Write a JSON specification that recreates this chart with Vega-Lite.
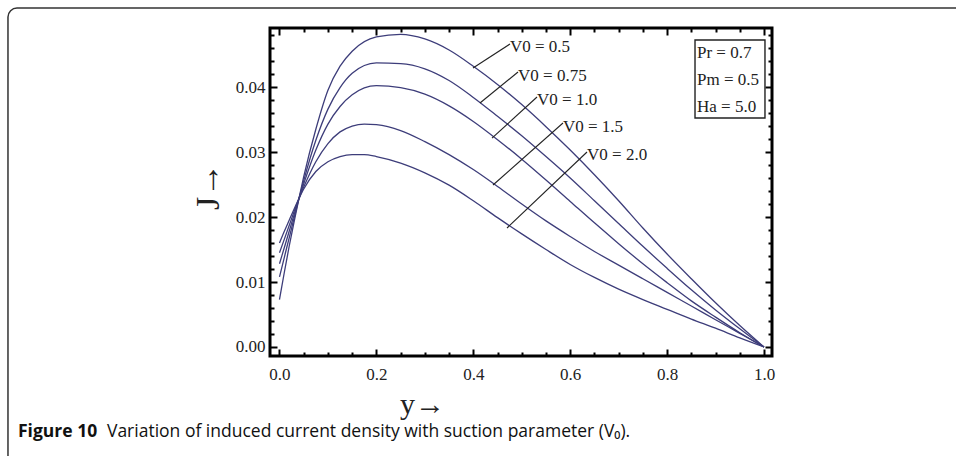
{
  "$schema": "https://vega.github.io/schema/vega-lite/v6.json",
  "width": 502,
  "height": 328,
  "autosize": {"type": "none"},
  "padding": {"left": 270, "top": 28, "right": 184, "bottom": 100},
  "background": "white",
  "config": {
    "view": {"stroke": "black", "strokeWidth": 3},
    "axis": {"grid": false, "domain": false, "tickColor": "black", "tickWidth": 2, "labelFont": "Liberation Serif", "labelColor": "#222", "labelFontSize": 17}
  },
  "datasets": {
    "curves": [
      {"V0": "0.5", "x": 0, "J": 0.0073}, {"V0": "0.5", "x": 0.01, "J": 0.0115}, {"V0": "0.5", "x": 0.02, "J": 0.0155}, {"V0": "0.5", "x": 0.03, "J": 0.0192}, {"V0": "0.5", "x": 0.04, "J": 0.0228}, {"V0": "0.5", "x": 0.05, "J": 0.0262}, {"V0": "0.5", "x": 0.075, "J": 0.0335}, {"V0": "0.5", "x": 0.1, "J": 0.0395}, {"V0": "0.5", "x": 0.125, "J": 0.0432}, {"V0": "0.5", "x": 0.15, "J": 0.0455}, {"V0": "0.5", "x": 0.2, "J": 0.0477}, {"V0": "0.5", "x": 0.25, "J": 0.0481}, {"V0": "0.5", "x": 0.3, "J": 0.0474}, {"V0": "0.5", "x": 0.35, "J": 0.0457}, {"V0": "0.5", "x": 0.4, "J": 0.0432}, {"V0": "0.5", "x": 0.45, "J": 0.0404}, {"V0": "0.5", "x": 0.5, "J": 0.0373}, {"V0": "0.5", "x": 0.55, "J": 0.0339}, {"V0": "0.5", "x": 0.6, "J": 0.0303}, {"V0": "0.5", "x": 0.65, "J": 0.0265}, {"V0": "0.5", "x": 0.7, "J": 0.0225}, {"V0": "0.5", "x": 0.75, "J": 0.0183}, {"V0": "0.5", "x": 0.8, "J": 0.0143}, {"V0": "0.5", "x": 0.85, "J": 0.0105}, {"V0": "0.5", "x": 0.9, "J": 0.0068}, {"V0": "0.5", "x": 0.95, "J": 0.0033}, {"V0": "0.5", "x": 1.0, "J": 0.0},
      {"V0": "0.75", "x": 0, "J": 0.0108}, {"V0": "0.75", "x": 0.01, "J": 0.0138}, {"V0": "0.75", "x": 0.02, "J": 0.0168}, {"V0": "0.75", "x": 0.03, "J": 0.0198}, {"V0": "0.75", "x": 0.04, "J": 0.0228}, {"V0": "0.75", "x": 0.05, "J": 0.0256}, {"V0": "0.75", "x": 0.075, "J": 0.0318}, {"V0": "0.75", "x": 0.1, "J": 0.0366}, {"V0": "0.75", "x": 0.125, "J": 0.0399}, {"V0": "0.75", "x": 0.15, "J": 0.0421}, {"V0": "0.75", "x": 0.2, "J": 0.0437}, {"V0": "0.75", "x": 0.25, "J": 0.0436}, {"V0": "0.75", "x": 0.3, "J": 0.0428}, {"V0": "0.75", "x": 0.35, "J": 0.041}, {"V0": "0.75", "x": 0.4, "J": 0.0384}, {"V0": "0.75", "x": 0.45, "J": 0.0355}, {"V0": "0.75", "x": 0.5, "J": 0.0325}, {"V0": "0.75", "x": 0.55, "J": 0.0293}, {"V0": "0.75", "x": 0.6, "J": 0.026}, {"V0": "0.75", "x": 0.65, "J": 0.0225}, {"V0": "0.75", "x": 0.7, "J": 0.019}, {"V0": "0.75", "x": 0.75, "J": 0.0155}, {"V0": "0.75", "x": 0.8, "J": 0.0121}, {"V0": "0.75", "x": 0.85, "J": 0.0088}, {"V0": "0.75", "x": 0.9, "J": 0.0057}, {"V0": "0.75", "x": 0.95, "J": 0.0028}, {"V0": "0.75", "x": 1.0, "J": 0.0},
      {"V0": "1.0", "x": 0, "J": 0.0128}, {"V0": "1.0", "x": 0.01, "J": 0.0153}, {"V0": "1.0", "x": 0.02, "J": 0.0178}, {"V0": "1.0", "x": 0.03, "J": 0.0203}, {"V0": "1.0", "x": 0.04, "J": 0.0228}, {"V0": "1.0", "x": 0.05, "J": 0.0251}, {"V0": "1.0", "x": 0.075, "J": 0.0303}, {"V0": "1.0", "x": 0.1, "J": 0.0343}, {"V0": "1.0", "x": 0.125, "J": 0.037}, {"V0": "1.0", "x": 0.15, "J": 0.0388}, {"V0": "1.0", "x": 0.2, "J": 0.0402}, {"V0": "1.0", "x": 0.25, "J": 0.0399}, {"V0": "1.0", "x": 0.3, "J": 0.0389}, {"V0": "1.0", "x": 0.35, "J": 0.0371}, {"V0": "1.0", "x": 0.4, "J": 0.0347}, {"V0": "1.0", "x": 0.45, "J": 0.0319}, {"V0": "1.0", "x": 0.5, "J": 0.0289}, {"V0": "1.0", "x": 0.55, "J": 0.0257}, {"V0": "1.0", "x": 0.6, "J": 0.0224}, {"V0": "1.0", "x": 0.65, "J": 0.0191}, {"V0": "1.0", "x": 0.7, "J": 0.0159}, {"V0": "1.0", "x": 0.75, "J": 0.0128}, {"V0": "1.0", "x": 0.8, "J": 0.0099}, {"V0": "1.0", "x": 0.85, "J": 0.0071}, {"V0": "1.0", "x": 0.9, "J": 0.0046}, {"V0": "1.0", "x": 0.95, "J": 0.0022}, {"V0": "1.0", "x": 1.0, "J": 0.0},
      {"V0": "1.5", "x": 0, "J": 0.0145}, {"V0": "1.5", "x": 0.01, "J": 0.0166}, {"V0": "1.5", "x": 0.02, "J": 0.0187}, {"V0": "1.5", "x": 0.03, "J": 0.0208}, {"V0": "1.5", "x": 0.04, "J": 0.0228}, {"V0": "1.5", "x": 0.05, "J": 0.0246}, {"V0": "1.5", "x": 0.075, "J": 0.0285}, {"V0": "1.5", "x": 0.1, "J": 0.0313}, {"V0": "1.5", "x": 0.125, "J": 0.0331}, {"V0": "1.5", "x": 0.15, "J": 0.034}, {"V0": "1.5", "x": 0.175, "J": 0.0343}, {"V0": "1.5", "x": 0.2, "J": 0.0342}, {"V0": "1.5", "x": 0.25, "J": 0.0333}, {"V0": "1.5", "x": 0.3, "J": 0.0316}, {"V0": "1.5", "x": 0.35, "J": 0.0296}, {"V0": "1.5", "x": 0.4, "J": 0.0273}, {"V0": "1.5", "x": 0.45, "J": 0.0247}, {"V0": "1.5", "x": 0.5, "J": 0.022}, {"V0": "1.5", "x": 0.55, "J": 0.0194}, {"V0": "1.5", "x": 0.6, "J": 0.017}, {"V0": "1.5", "x": 0.65, "J": 0.0147}, {"V0": "1.5", "x": 0.7, "J": 0.0126}, {"V0": "1.5", "x": 0.75, "J": 0.0105}, {"V0": "1.5", "x": 0.8, "J": 0.0084}, {"V0": "1.5", "x": 0.85, "J": 0.0063}, {"V0": "1.5", "x": 0.9, "J": 0.0042}, {"V0": "1.5", "x": 0.95, "J": 0.0021}, {"V0": "1.5", "x": 1.0, "J": 0.0},
      {"V0": "2.0", "x": 0, "J": 0.016}, {"V0": "2.0", "x": 0.01, "J": 0.0178}, {"V0": "2.0", "x": 0.02, "J": 0.0195}, {"V0": "2.0", "x": 0.03, "J": 0.0212}, {"V0": "2.0", "x": 0.04, "J": 0.0228}, {"V0": "2.0", "x": 0.05, "J": 0.0243}, {"V0": "2.0", "x": 0.075, "J": 0.027}, {"V0": "2.0", "x": 0.1, "J": 0.0285}, {"V0": "2.0", "x": 0.125, "J": 0.0293}, {"V0": "2.0", "x": 0.15, "J": 0.0296}, {"V0": "2.0", "x": 0.175, "J": 0.0296}, {"V0": "2.0", "x": 0.2, "J": 0.0293}, {"V0": "2.0", "x": 0.25, "J": 0.0283}, {"V0": "2.0", "x": 0.3, "J": 0.0268}, {"V0": "2.0", "x": 0.35, "J": 0.0249}, {"V0": "2.0", "x": 0.4, "J": 0.0225}, {"V0": "2.0", "x": 0.45, "J": 0.0199}, {"V0": "2.0", "x": 0.5, "J": 0.0174}, {"V0": "2.0", "x": 0.55, "J": 0.015}, {"V0": "2.0", "x": 0.6, "J": 0.0127}, {"V0": "2.0", "x": 0.65, "J": 0.0107}, {"V0": "2.0", "x": 0.7, "J": 0.0089}, {"V0": "2.0", "x": 0.75, "J": 0.0073}, {"V0": "2.0", "x": 0.8, "J": 0.0058}, {"V0": "2.0", "x": 0.85, "J": 0.0043}, {"V0": "2.0", "x": 0.9, "J": 0.0029}, {"V0": "2.0", "x": 0.95, "J": 0.0014}, {"V0": "2.0", "x": 1.0, "J": 0.0}
    ],
    "labels": [
      {"text": "V0 = 0.5", "x1": 0.3994, "y1": 0.04292, "x2": 0.4757, "y2": 0.04662, "tx": 0.4757, "ty": 0.04615},
      {"text": "V0 = 0.75", "x1": 0.4138, "y1": 0.03754, "x2": 0.4923, "y2": 0.04231, "tx": 0.4923, "ty": 0.04169},
      {"text": "V0 = 1.0", "x1": 0.4386, "y1": 0.03215, "x2": 0.5315, "y2": 0.03846, "tx": 0.5315, "ty": 0.038},
      {"text": "V0 = 1.5", "x1": 0.4407, "y1": 0.02492, "x2": 0.5851, "y2": 0.03446, "tx": 0.5851, "ty": 0.03385},
      {"text": "V0 = 2.0", "x1": 0.4696, "y1": 0.01831, "x2": 0.6347, "y2": 0.03, "tx": 0.6347, "ty": 0.02954}
    ],
    "params": [
      {"text": "Pr = 0.7", "tx": 0.8617, "ty": 0.04523},
      {"text": "Pm = 0.5", "tx": 0.8617, "ty": 0.04108},
      {"text": "Ha = 5.0", "tx": 0.8617, "ty": 0.03692}
    ],
    "parambox": [{"x1": 0.8576, "x2": 1.002, "y1": 0.04723, "y2": 0.03523}],
    "outer": [{"x1": -0.5604, "x2": 1.425, "y1": 0.05215, "y2": -0.0189}],
    "caption_bold": [{"text": "Figure 10", "tx": -0.5397, "ty": -0.01385}],
    "caption_rest": [{"text": "Variation of induced current density with suction parameter (V₀).", "tx": -0.3561, "ty": -0.01385}]
  },
  "resolve": {"axis": {"x": "independent", "y": "independent"}},
  "layer": [
    {
      "data": {"name": "outer"},
      "mark": {"type": "rect", "fillOpacity": 0, "stroke": "#333", "strokeWidth": 1.5, "cornerRadius": 9},
      "encoding": {
        "x": {"field": "x1", "type": "quantitative", "scale": {"domain": [-0.0196, 1.0165], "nice": false, "zero": false}, "axis": null},
        "x2": {"field": "x2"},
        "y": {"field": "y1", "type": "quantitative", "scale": {"domain": [-0.001385, 0.04908], "nice": false, "zero": false}, "axis": null},
        "y2": {"field": "y2"}
      }
    },
    {
      "data": {"name": "curves"},
      "mark": {"type": "line", "interpolate": "monotone", "stroke": "#3d3d7a", "strokeWidth": 1.3},
      "encoding": {
        "x": {"field": "x", "type": "quantitative", "scale": {"domain": [-0.0196, 1.0165], "nice": false, "zero": false},
          "axis": {"orient": "bottom", "values": [0, 0.2, 0.4, 0.6, 0.8, 1.0], "format": ".1f", "tickSize": -7, "labelPadding": 17,
            "title": "y→", "titleFont": "Liberation Serif", "titleFontSize": 30, "titleFontWeight": "normal", "titleColor": "#222",
            "titleX": 152, "titleY": 57, "titleAlign": "center", "titleBaseline": "alphabetic"}},
        "y": {"field": "J", "type": "quantitative", "scale": {"domain": [-0.001385, 0.04908], "nice": false, "zero": false},
          "axis": {"orient": "left", "values": [0, 0.01, 0.02, 0.03, 0.04], "format": ".2f", "tickSize": -7, "labelPadding": 12,
            "title": "J→", "titleFont": "Liberation Serif", "titleFontSize": 34, "titleFontWeight": "normal", "titleColor": "#222",
            "titleX": -62, "titleY": 158, "titleAlign": "center", "titleBaseline": "middle", "titleAngle": 270}},
        "detail": {"field": "V0"}
      }
    },
    {
      "mark": {"type": "rule", "color": "black", "strokeWidth": 1.5},
      "encoding": {"y": {"datum": 0, "type": "quantitative", "scale": {"domain": [-0.001385, 0.04908], "nice": false, "zero": false}, "axis": null}}
    },
    {
      "mark": {"type": "rule", "color": "black", "strokeWidth": 1.5},
      "encoding": {"x": {"datum": 0, "type": "quantitative", "scale": {"domain": [-0.0196, 1.0165], "nice": false, "zero": false}, "axis": null}}
    },
    {
      "data": {"name": "labels"},
      "mark": {"type": "rule", "color": "#222", "strokeWidth": 1.1},
      "encoding": {
        "x": {"field": "x1", "type": "quantitative", "scale": {"domain": [-0.0196, 1.0165], "nice": false, "zero": false},
          "axis": {"orient": "bottom", "values": [0.05, 0.1, 0.15, 0.25, 0.3, 0.35, 0.45, 0.5, 0.55, 0.65, 0.7, 0.75, 0.85, 0.9, 0.95], "tickSize": -4, "labels": false, "title": null}},
        "x2": {"field": "x2"},
        "y": {"field": "y1", "type": "quantitative", "scale": {"domain": [-0.001385, 0.04908], "nice": false, "zero": false},
          "axis": {"orient": "left", "values": [0.002, 0.004, 0.006, 0.008, 0.012, 0.014, 0.016, 0.018, 0.022, 0.024, 0.026, 0.028, 0.032, 0.034, 0.036, 0.038, 0.042, 0.044, 0.046, 0.048], "tickSize": -4, "labels": false, "title": null}},
        "y2": {"field": "y2"}
      }
    },
    {
      "data": {"name": "labels"},
      "mark": {"type": "text", "font": "Liberation Serif", "fontSize": 17, "align": "left", "baseline": "middle", "color": "#222"},
      "encoding": {
        "x": {"field": "tx", "type": "quantitative", "scale": {"domain": [-0.0196, 1.0165], "nice": false, "zero": false},
          "axis": {"orient": "top", "values": [0, 0.2, 0.4, 0.6, 0.8, 1.0], "tickSize": -7, "labels": false, "title": null}},
        "y": {"field": "ty", "type": "quantitative", "scale": {"domain": [-0.001385, 0.04908], "nice": false, "zero": false},
          "axis": {"orient": "right", "values": [0, 0.01, 0.02, 0.03, 0.04], "tickSize": -7, "labels": false, "title": null}},
        "text": {"field": "text"}
      }
    },
    {
      "data": {"name": "parambox"},
      "mark": {"type": "rect", "fillOpacity": 0, "stroke": "#222", "strokeWidth": 1.4},
      "encoding": {
        "x": {"field": "x1", "type": "quantitative", "scale": {"domain": [-0.0196, 1.0165], "nice": false, "zero": false},
          "axis": {"orient": "top", "values": [0.05, 0.1, 0.15, 0.25, 0.3, 0.35, 0.45, 0.5, 0.55, 0.65, 0.7, 0.75, 0.85, 0.9, 0.95], "tickSize": -4, "labels": false, "title": null}},
        "x2": {"field": "x2"},
        "y": {"field": "y1", "type": "quantitative", "scale": {"domain": [-0.001385, 0.04908], "nice": false, "zero": false},
          "axis": {"orient": "right", "values": [0.002, 0.004, 0.006, 0.008, 0.012, 0.014, 0.016, 0.018, 0.022, 0.024, 0.026, 0.028, 0.032, 0.034, 0.036, 0.038, 0.042, 0.044, 0.046, 0.048], "tickSize": -4, "labels": false, "title": null}},
        "y2": {"field": "y2"}
      }
    },
    {
      "data": {"name": "params"},
      "mark": {"type": "text", "font": "Liberation Serif", "fontSize": 17, "align": "left", "baseline": "middle", "color": "#222"},
      "encoding": {
        "x": {"field": "tx", "type": "quantitative", "scale": {"domain": [-0.0196, 1.0165], "nice": false, "zero": false}, "axis": null},
        "y": {"field": "ty", "type": "quantitative", "scale": {"domain": [-0.001385, 0.04908], "nice": false, "zero": false}, "axis": null},
        "text": {"field": "text"}
      }
    },
    {
      "data": {"name": "caption_bold"},
      "mark": {"type": "text", "font": "Open Sans", "fontSize": 17.5, "fontWeight": "bold", "align": "left", "baseline": "alphabetic", "color": "#111"},
      "encoding": {
        "x": {"field": "tx", "type": "quantitative", "scale": {"domain": [-0.0196, 1.0165], "nice": false, "zero": false}, "axis": null},
        "y": {"field": "ty", "type": "quantitative", "scale": {"domain": [-0.001385, 0.04908], "nice": false, "zero": false}, "axis": null},
        "text": {"field": "text"}
      }
    },
    {
      "data": {"name": "caption_rest"},
      "mark": {"type": "text", "font": "Open Sans", "fontSize": 17.5, "align": "left", "baseline": "alphabetic", "color": "#111"},
      "encoding": {
        "x": {"field": "tx", "type": "quantitative", "scale": {"domain": [-0.0196, 1.0165], "nice": false, "zero": false}, "axis": null},
        "y": {"field": "ty", "type": "quantitative", "scale": {"domain": [-0.001385, 0.04908], "nice": false, "zero": false}, "axis": null},
        "text": {"field": "text"}
      }
    }
  ]
}
